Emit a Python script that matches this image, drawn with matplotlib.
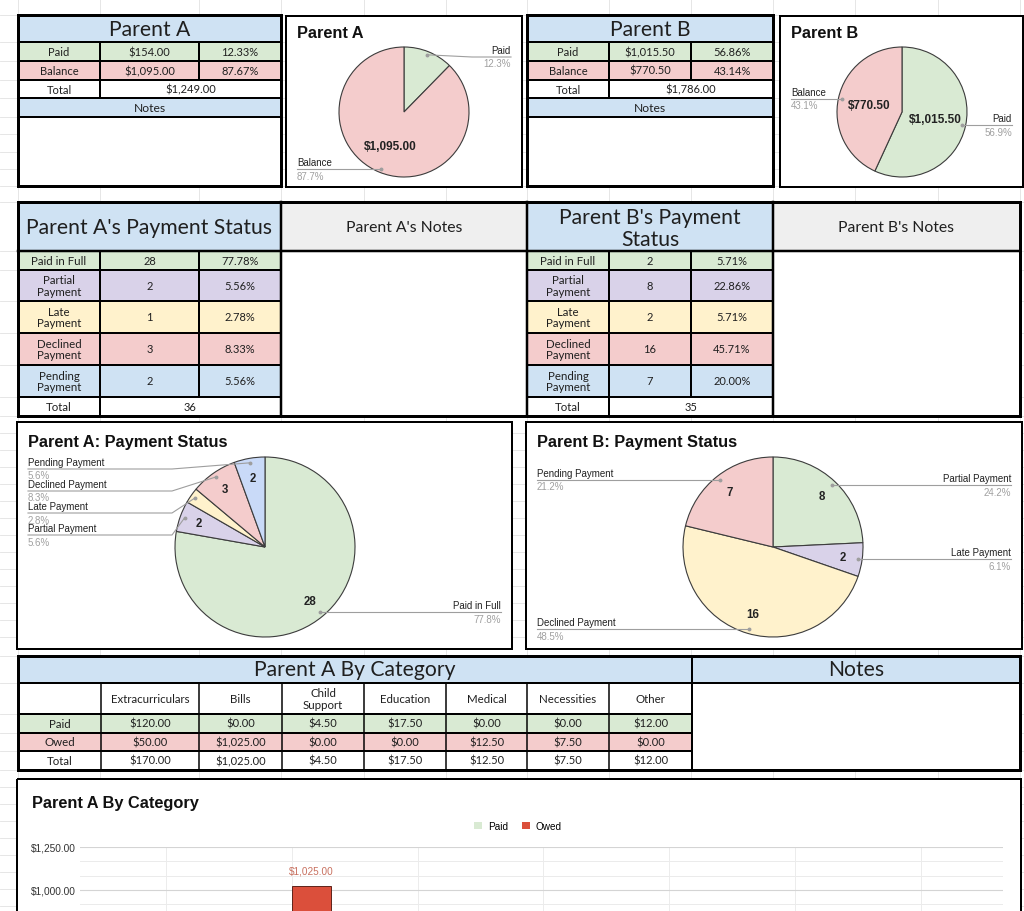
import matplotlib
matplotlib.use('Agg')
import matplotlib.pyplot as plt
from matplotlib.patches import Rectangle
import numpy as np

# ---------------- data ----------------
balance_labels = ['Paid', 'Balance']
parent_a_balance = [154.00, 1095.00]
parent_b_balance = [1015.50, 770.50]

status_labels = ['Paid in Full', 'Partial Payment', 'Late Payment', 'Declined Payment', 'Pending Payment']
status_a = [28, 2, 1, 3, 2]
status_b = [2, 8, 2, 16, 7]
status_b_chart_labels = status_labels[1:]
status_b_chart_values = status_b[1:]

categories = ['Extracurriculars', 'Bills', 'Child Support', 'Education', 'Medical', 'Necessities', 'Other']
category_paid = [120.00, 0.00, 4.50, 17.50, 0.00, 0.00, 12.00]
category_owed = [50.00, 1025.00, 0.00, 0.00, 12.50, 7.50, 0.00]
bar_series = ['Paid', 'Owed']

# ---------------- style ----------------
GREEN = '#d9ead3'
PINK = '#f4cccc'
BLUE = '#cfe2f3'
LAV = '#d9d2e9'
YEL = '#fff2cc'
GRAY = '#efefef'
PIE_BLUE = '#c9daf8'
status_fills = [GREEN, LAV, YEL, PINK, BLUE]
pie_cycle = [GREEN, LAV, YEL, PINK, PIE_BLUE]
OWED = '#db4f3b'

TF = ['Lato', 'DejaVu Sans']
CF = ['Liberation Sans', 'DejaVu Sans']
BIG = 15.2
BODY = 8
CTITLE = 11.8

W, H = 1024, 912
PT = 72 / 100.0

fig = plt.figure(figsize=(W / 100, H / 100), dpi=100)
bg = fig.add_axes([0, 0, 1, 1])
bg.set_xlim(0, W)
bg.set_ylim(H, 0)
bg.axis('off')


def rect(x0, y0, x1, y1, fc='white', ec='none', lw=0, z=2):
    bg.add_patch(Rectangle((x0, y0), x1 - x0, y1 - y0, facecolor=fc,
                           edgecolor=ec, linewidth=lw * PT, zorder=z))


def hline(y, x0, x1, lw=2, color='black', z=5):
    bg.plot([x0, x1], [y, y], color=color, lw=lw * PT, zorder=z,
            solid_capstyle='projecting')


def vline(x, y0, y1, lw=2, color='black', z=5):
    bg.plot([x, x], [y0, y1], color=color, lw=lw * PT, zorder=z,
            solid_capstyle='projecting')


def box(x0, y0, x1, y1, lw=3):
    bg.add_patch(Rectangle((x0, y0), x1 - x0, y1 - y0, facecolor='none',
                           edgecolor='black', linewidth=lw * PT, zorder=6))


def txt(x, y, s, size, ha='center', va='center', family=TF, color='#1f1f1f',
        weight='normal', ls=1.1):
    bg.text(x, y, s, fontsize=size, ha=ha, va=va, family=family, color=color,
            weight=weight, zorder=7, linespacing=ls)


# ---------------- spreadsheet grid ----------------
col_grid = [18, 100, 199, 281, 364, 446, 527, 609, 691, 773, 855, 938, 1020]
row_grid = ([16, 43, 62, 81, 99, 118, 135, 153, 170, 187, 203, 252, 271, 302,
             334, 366, 398, 417] + list(range(434, 650, 17)) +
            [657, 684, 715, 734, 752, 771] + list(range(788, 912, 17)))
for x in col_grid:
    bg.plot([x, x], [0, H], color='#e2e2e2', lw=0.6, zorder=1)
for y in row_grid:
    bg.plot([0, W], [y, y], color='#e2e2e2', lw=0.6, zorder=1)


# ---------------- row 1 : summary tables ----------------
def draw_summary_table(xe, title, amounts):
    x0, xa, xb, x1 = xe
    ys = [16, 43, 62, 81, 99, 118, 187]
    total = sum(amounts)
    rect(x0, ys[0], x1, ys[1], BLUE)
    txt((x0 + x1) / 2, (ys[0] + ys[1]) / 2 + 1, title, BIG)
    fills = [GREEN, PINK]
    for i, (lab, amt) in enumerate(zip(balance_labels, amounts)):
        y0, y1 = ys[i + 1], ys[i + 2]
        ym = (y0 + y1) / 2
        rect(x0, y0, x1, y1, fills[i])
        txt((x0 + xa) / 2, ym, lab, BODY)
        txt((xa + xb) / 2, ym, f'${amt:,.2f}', BODY)
        txt((xb + x1) / 2, ym, f'{amt / total * 100:.2f}%', BODY)
    ym = (ys[3] + ys[4]) / 2
    rect(x0, ys[3], x1, ys[4], 'white')
    txt((x0 + xa) / 2, ym, 'Total', BODY)
    txt((xa + x1) / 2, ym, f'${total:,.2f}', BODY)
    rect(x0, ys[4], x1, ys[5], BLUE)
    txt((x0 + x1) / 2, (ys[4] + ys[5]) / 2, 'Notes', 8.7)
    rect(x0, ys[5], x1, ys[6], 'white')
    for y in ys[1:6]:
        hline(y, x0, x1, 2)
    vline(xa, ys[1], ys[4], 2)
    vline(xb, ys[1], ys[3], 2)
    box(x0, ys[0], x1, ys[6], 3)


draw_summary_table([18, 100, 199, 281], 'Parent A', parent_a_balance)
draw_summary_table([527, 609, 691, 773], 'Parent B', parent_b_balance)


# ---------------- pie helper ----------------
def pie_chart(bx, title, title_dy, labels, values, colors, center, r,
              min_line, spacing, value_fmt, value_r, value_min, value_size):
    bx0, by0, bx1, by1 = bx
    rect(bx0, by0, bx1, by1, 'white', z=3)
    box(bx0, by0, bx1, by1, 2)
    txt(bx0 + 11, by0 + title_dy, title, CTITLE, ha='left', family=CF,
        weight='bold', color='#111111')
    ax = fig.add_axes([bx0 / W, 1 - by1 / H, (bx1 - bx0) / W, (by1 - by0) / H])
    ax.set_zorder(10)
    cx, cy = center
    ax.pie(values, colors=colors, startangle=90, counterclock=False,
           center=(cx, H - cy), radius=r,
           wedgeprops=dict(edgecolor='#3c3c3c', linewidth=0.8))
    ax.set_xlim(bx0, bx1)
    ax.set_ylim(H - by1, H - by0)
    ax.set_aspect('auto')
    ax.axis('off')
    total = float(sum(values))
    cum = np.cumsum(values) / total
    mids = cum - np.array(values) / total / 2
    items = []
    for lab, v, m in zip(labels, values, mids):
        th = np.deg2rad(360 * m)
        s, c = np.sin(th), np.cos(th)
        ax_x, ax_y = cx + 0.95 * r * s, cy - 0.95 * r * c
        items.append(dict(lab=lab, v=v, s=s, c=c, ax=ax_x, ay=ax_y,
                          side='L' if s < 0 else 'R'))
        if v / total >= value_min:
            ax.text(cx + value_r * r * s, H - (cy - value_r * r * c),
                    value_fmt(v), ha='center', va='center', fontsize=value_size,
                    family=CF, weight='bold', color='#222222')
    for side in ('L', 'R'):
        group = sorted([it for it in items if it['side'] == side],
                       key=lambda it: it['ay'])
        prev = None
        for it in group:
            ly = max(it['ay'], min_line)
            if prev is not None:
                ly = max(ly, prev + spacing)
            prev = ly
            if side == 'L':
                tx, ex, ha = bx0 + 11, cx - r - 3, 'left'
            else:
                tx, ex, ha = bx1 - 11, cx + r + 3, 'right'
            ax.plot([tx, ex, it['ax']], [H - ly, H - ly, H - it['ay']],
                    color='#9e9e9e', lw=0.8)
            ax.plot([it['ax']], [H - it['ay']], 'o', ms=1.8, color='#9e9e9e')
            ax.text(tx, H - ly + 2, it['lab'], ha=ha, va='bottom', fontsize=7,
                    family=CF, color='#222222')
            ax.text(tx, H - ly - 1.5, f"{it['v'] / total * 100:.1f}%", ha=ha,
                    va='top', fontsize=7, family=CF, color='#a0a0a0')
    return ax


money = lambda v: f'${v:,.2f}'
count = lambda v: f'{v:d}'

pie_chart((286, 17, 522, 188), 'Parent A', 17, balance_labels, parent_a_balance,
          [GREEN, PINK], (404, 113), 65, 58, 22, money, 0.56, 0.2, 8.5)
pie_chart((780, 17, 1023, 188), 'Parent B', 17, balance_labels, parent_b_balance,
          [GREEN, PINK], (902, 113), 65, 58, 22, money, 0.52, 0.2, 8.5)

# ---------------- row 2 : payment status tables ----------------
R2T, R2H, R2B = 203, 252, 417
rows_y = [252, 271, 302, 334, 366, 398, 417]
rect(18, R2T, 281, R2H, BLUE)
rect(281, R2T, 527, R2H, GRAY)
rect(527, R2T, 773, R2H, BLUE)
rect(773, R2T, 1020, R2H, GRAY)
txt(149.5, 228, "Parent A's Payment Status", BIG)
txt(404, 228, "Parent A's Notes", 11.3)
txt(650, 229, "Parent B's Payment\nStatus", BIG, ls=1.12)
txt(896.5, 228, "Parent B's Notes", 11.3)
rect(281, R2H, 527, R2B, 'white')
rect(773, R2H, 1020, R2B, 'white')


def draw_status_table(xe, values):
    x0, xa, xb, x1 = xe
    total = sum(values)
    for i, (lab, v) in enumerate(zip(status_labels, values)):
        y0, y1 = rows_y[i], rows_y[i + 1]
        ym = (y0 + y1) / 2
        rect(x0, y0, x1, y1, status_fills[i])
        disp = lab if i == 0 else lab.replace(' ', '\n')
        txt((x0 + xa) / 2, ym, disp, BODY + 0.3)
        txt((xa + xb) / 2, ym, f'{v}', BODY)
        txt((xb + x1) / 2, ym, f'{v / total * 100:.2f}%', BODY)
    ym = (rows_y[5] + rows_y[6]) / 2
    rect(x0, rows_y[5], x1, rows_y[6], 'white')
    txt((x0 + xa) / 2, ym, 'Total', BODY + 0.3)
    txt((xa + x1) / 2, ym, f'{total}', BODY)
    for y in rows_y[1:6]:
        hline(y, x0, x1, 2)
    vline(xa, rows_y[0], rows_y[6], 2)
    vline(xb, rows_y[0], rows_y[5], 2)


draw_status_table([18, 100, 199, 281], status_a)
draw_status_table([527, 609, 691, 773], status_b)
hline(R2H, 18, 1020, 2.5)
for x in (281, 527, 773):
    vline(x, R2T, R2B, 2.5)
box(18, R2T, 1020, R2B, 3)

# ---------------- row 3 : status pies ----------------
pie_chart((17, 423, 512, 650), 'Parent A: Payment Status', 20, status_labels,
          status_a, pie_cycle[:len(status_a)], (265, 548), 90, 470, 22,
          count, 0.78, 0.05, 8.3)
pie_chart((526, 423, 1022, 650), 'Parent B: Payment Status', 20,
          status_b_chart_labels, status_b_chart_values,
          pie_cycle[:len(status_b_chart_values)], (773, 548), 90, 470, 22,
          count, 0.78, 0.05, 8.3)

# ---------------- row 4 : category table ----------------
cx_edges = [18, 101, 199, 282, 364, 446, 527, 609, 692]
ct = [657, 684, 715, 734, 752, 771]
rect(18, ct[0], 1020, ct[1], BLUE)
txt((18 + 692) / 2, 670.5, 'Parent A By Category', BIG)
txt((692 + 1020) / 2, 670.5, 'Notes', BIG)
rect(18, ct[1], 692, ct[2], 'white')
rect(692, ct[1], 1020, ct[5], 'white')
row_defs = [('Paid', category_paid, GREEN), ('Owed', category_owed, PINK),
            ('Total', [p + o for p, o in zip(category_paid, category_owed)], 'white')]
for j, cat in enumerate(categories):
    xm = (cx_edges[j + 1] + cx_edges[j + 2]) / 2
    txt(xm, (ct[1] + ct[2]) / 2, cat.replace(' ', '\n') if cat == 'Child Support' else cat,
        BODY + 0.3)
for i, (lab, vals, fill) in enumerate(row_defs):
    y0, y1 = ct[i + 2], ct[i + 3]
    ym = (y0 + y1) / 2
    rect(18, y0, 692, y1, fill)
    txt((cx_edges[0] + cx_edges[1]) / 2, ym, lab, BODY + 0.3)
    for j, v in enumerate(vals):
        txt((cx_edges[j + 1] + cx_edges[j + 2]) / 2, ym, f'${v:,.2f}', BODY)
hline(ct[1], 18, 1020, 2)
for y in ct[2:5]:
    hline(y, 18, 692, 2)
for x in cx_edges[1:-1]:
    vline(x, ct[1], ct[5], 1.5)
vline(692, ct[0], ct[5], 2)
box(18, ct[0], 1020, ct[5], 3)

# ---------------- row 5 : bar chart ----------------
rect(17, 780, 1021, 1000, 'white', z=3)
box(17, 780, 1021, 1000, 2)
txt(32, 804, 'Parent A By Category', CTITLE, ha='left', family=CF, weight='bold',
    color='#111111')

AX_TOP, AX_BOT = 848, 1063  # pixel rows of $1,250 and $0 (chart runs past the crop)
bax = fig.add_axes([80 / W, 1 - AX_BOT / H, (1003 - 80) / W, (AX_BOT - AX_TOP) / H])
bax.set_zorder(10)
bax.patch.set_alpha(0)
YMAX = 1250
v_visible = YMAX * (AX_BOT - H) / (AX_BOT - AX_TOP) + 40  # lowest value still inside crop
xpos = np.arange(len(categories))
bw = 0.31
b_paid = bax.bar(xpos - bw / 2, category_paid, bw, color=GREEN, edgecolor='#9fb399',
                 linewidth=0.5, label=bar_series[0], zorder=3)
b_owed = bax.bar(xpos + bw / 2, category_owed, bw, color=OWED, edgecolor='#5e2219',
                 linewidth=0.7, label=bar_series[1], zorder=3)
bax.bar_label(b_owed, labels=[f'${v:,.2f}' if v > v_visible else '' for v in category_owed],
              padding=7, fontsize=7.2, color='#c8705f', family=CF)
bax.bar_label(b_paid, labels=[f'${v:,.2f}' if v > v_visible else '' for v in category_paid],
              padding=7, fontsize=7.2, color='#8fa58a', family=CF)
bax.set_xlim(-0.684, 6.653)
bax.set_ylim(0, YMAX)
bax.set_yticks(np.arange(0, YMAX + 1, 250))
bax.set_yticks(np.arange(0, YMAX, 250 / 3), minor=True)
bax.yaxis.set_major_formatter(lambda v, p: f'${v:,.2f}' if v > v_visible - 40 else '')
bax.set_xticks(xpos)
bax.tick_params(axis='y', which='both', length=0, pad=3, labelsize=7.3,
                labelcolor='#333333')
bax.tick_params(axis='x', length=0, labelbottom=False)
for lab in bax.get_yticklabels():
    lab.set_family(CF)
bax.grid(axis='y', which='major', color='#d4d4d4', lw=0.8, zorder=0)
bax.grid(axis='y', which='minor', color='#ebebeb', lw=0.7, zorder=0)
bax.grid(axis='x', which='major', color='#ececec', lw=0.7, zorder=0)
for sp in bax.spines.values():
    sp.set_visible(False)

handles = [Rectangle((0, 0), 1, 1, facecolor=GREEN, edgecolor='none'),
           Rectangle((0, 0), 1, 1, facecolor=OWED, edgecolor='none')]
leg = fig.legend(handles, bar_series, loc='center', bbox_to_anchor=(518 / W, 1 - 827 / H),
                 ncol=2, frameon=False, handlelength=0.8,
                 handleheight=0.8, columnspacing=1.4, handletextpad=0.6,
                 prop={'family': CF, 'size': 7.2})
leg.set_zorder(20)

fig.savefig('out.png', dpi=100)
